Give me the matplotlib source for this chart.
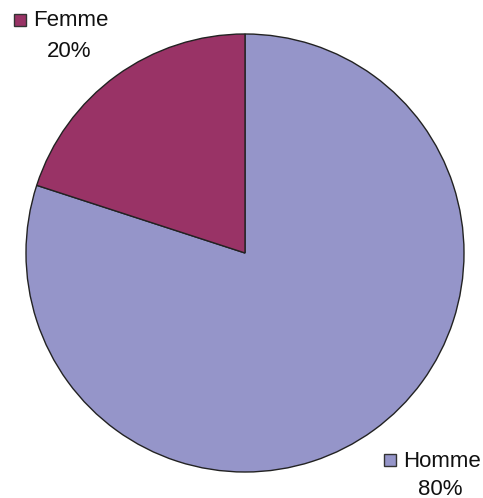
import matplotlib.pyplot as plt
from matplotlib.patches import Rectangle

labels = ["Homme", "Femme"]
values = [80, 20]
colors = ["#9595C9", "#993366"]

plt.rcParams['font.family'] = ['Liberation Sans', 'DejaVu Sans']

W, H = 483, 498
fig = plt.figure(figsize=(W / 100, H / 100), dpi=100)

# pie axes: centre (245, 253) px, radius 219 px
cx, cy, r = 245, 253, 219
ax = fig.add_axes([(cx - r) / W, (H - cy - r) / H, 2 * r / W, 2 * r / H])
ax.pie(values, colors=colors, startangle=90, counterclock=False,
       wedgeprops=dict(edgecolor="#222222", linewidth=1.0))
ax.set_xlim(-1, 1)
ax.set_ylim(-1, 1)
ax.set_aspect("equal")
ax.axis("off")


def label(marker_x, marker_y, text_x, pct_x, pct_y, name, value, color):
    # small legend-style square then name, percentage below
    s = 12
    fig.patches.append(Rectangle((marker_x / W, (H - marker_y - s) / H), s / W, s / H,
                                 transform=fig.transFigure, facecolor=color,
                                 edgecolor="#333333", linewidth=1.0))
    fig.text(text_x / W, (H - marker_y - s / 2 - 1) / H, name, fontsize=16,
             ha="left", va="center", color="#111111")
    fig.text(pct_x / W, (H - pct_y) / H, "%d%%" % value, fontsize=16,
             ha="center", va="center", color="#111111")


label(14, 14, 33, 69, 51, labels[1], values[1], colors[1])
label(384, 454, 403, 440, 489, labels[0], values[0], colors[0])

fig.savefig("out.png", dpi=100)
